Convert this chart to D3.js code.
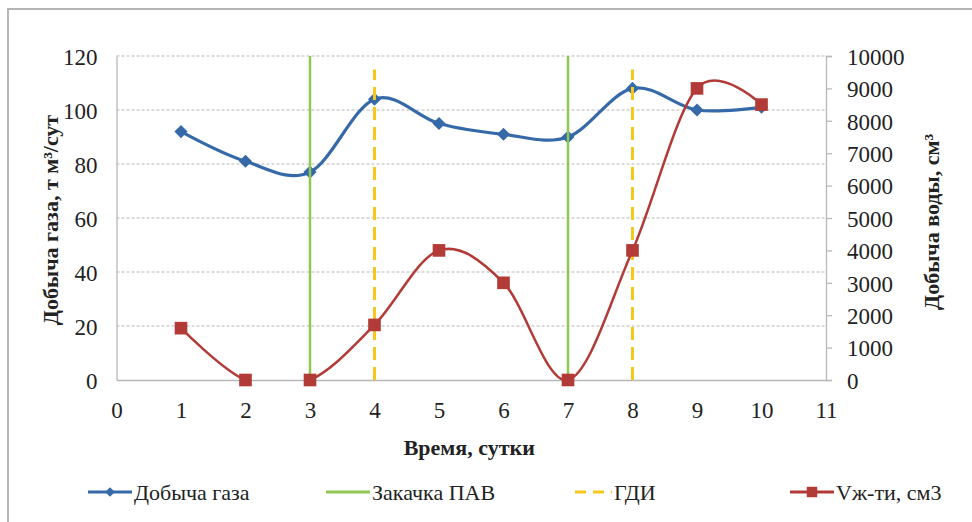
<!DOCTYPE html>
<html><head><meta charset="utf-8">
<script src="https://cdn.jsdelivr.net/npm/d3@7"></script>
<style>body{margin:0;background:#fff}svg{display:block}</style>
</head><body><svg id="c" width="972" height="522" style="font-family:'Liberation Serif','DejaVu Serif',serif"></svg>
<script>
const days = [1,2,3,4,5,6,7,8,9,10];
const gasProduction = [92,81,77,104,95,91,90,108,100,101];
const waterVolume = [1600,0,0,1700,4000,3000,0,4000,9000,8500];
const pavInjectionDays = [3,7];
const gdiDays = [4,8];
const xTicks = d3.range(0,12);
const leftTicks = [0,20,40,60,80,100,120];
const rightTicks = d3.range(0,10001,1000);
const seriesNames = ["Добыча газа","Закачка ПАВ","ГДИ","Vж-ти, см3"];

const FONT = "'Liberation Serif','DejaVu Serif',serif";
const svg = d3.select("#c");
const L = 116.5, R = 826, T = 56, B = 380;
const x = d3.scaleLinear().domain([0,11]).range([L,R]);
const yL = d3.scaleLinear().domain([0,120]).range([B,T]);
const yR = d3.scaleLinear().domain([0,10000]).range([B,T]);

const cBlue="#3569a8", cRed="#b23b37", cGreen="#8fc853", cYellow="#f7c71c", cGrid="#b8b8b8", cText="#222";

svg.append("defs").append("clipPath").attr("id","plotclip")
  .append("rect").attr("x",L).attr("y",T-10).attr("width",R-L).attr("height",B-T+10);

// outer frame
svg.append("rect").attr("x",8).attr("y",9).attr("width",980).attr("height",540)
  .attr("fill","none").attr("stroke","#b5b5b5").attr("stroke-width",2);

// gridlines
svg.append("g").selectAll("line").data(leftTicks.filter(d=>d>0)).join("line")
  .attr("x1",L).attr("x2",R).attr("y1",d=>yL(d)).attr("y2",d=>yL(d))
  .attr("stroke",cGrid).attr("stroke-width",1.2).attr("stroke-dasharray","3,2");

function styleText(sel, size){
  sel.attr("font-family",null).attr("font-size",null);
  sel.selectAll("text").style("font-family",FONT).style("font-size",size).style("fill",cText).attr("fill",cText);
}

// left axis
const gL = svg.append("g").attr("transform",`translate(${L},0)`)
  .call(d3.axisLeft(yL).tickValues(leftTicks).tickSize(0).tickPadding(19));
gL.select(".domain").attr("stroke",cGrid).attr("stroke-width",1.3);
styleText(gL,"23px"); gL.selectAll("text").attr("dy","0.36em");

// right axis
const gR = svg.append("g").attr("transform",`translate(${R},0)`)
  .call(d3.axisRight(yR).tickValues(rightTicks).tickSize(6).tickPadding(15).tickFormat(d3.format("d")));
gR.select(".domain").attr("stroke",cGrid).attr("stroke-width",1.3);
gR.selectAll(".tick line").attr("stroke",cGrid).attr("stroke-width",1.3);
styleText(gR,"23px"); gR.selectAll("text").attr("dy","0.36em");

// bottom axis
const gB = svg.append("g").attr("transform",`translate(0,${B})`)
  .call(d3.axisBottom(x).tickValues(xTicks).tickSize(0).tickPadding(22).tickFormat(d3.format("d")));
gB.select(".domain").attr("stroke",cGrid).attr("stroke-width",1.3);
styleText(gB,"23px");

// axis titles
svg.append("text").attr("x",(L+R)/2-2).attr("y",455).attr("text-anchor","middle")
  .style("font-family",FONT).style("font-size","22px").style("font-weight","bold").attr("fill",cText).text("Время, сутки");
svg.append("text").attr("transform",`translate(50,220) rotate(-90)`).attr("text-anchor","middle").attr("dy","0.35em")
  .style("font-family",FONT).style("font-size","22px").style("font-weight","bold").attr("fill",cText)
  .text("Добыча газа, т м³/сут");
svg.append("text").attr("transform",`translate(931,222) rotate(-90)`).attr("text-anchor","middle").attr("dy","0.35em")
  .style("font-family",FONT).style("font-size","22px").style("font-weight","bold").attr("fill",cText)
  .text("Добыча воды, см³");

const curve = d3.curveCardinal.tension(0);
// gas series
const gasData = days.map((d,i)=>({d,v:gasProduction[i]}));
svg.append("path").datum(gasData).attr("fill","none").attr("stroke",cBlue).attr("stroke-width",3.2)
  .attr("clip-path","url(#plotclip)")
  .attr("d",d3.line().x(p=>x(p.d)).y(p=>yL(p.v)).curve(curve));
svg.append("g").selectAll("path").data(gasData).join("path")
  .attr("transform",p=>`translate(${x(p.d)},${yL(p.v)})`)
  .attr("d",d3.symbol(d3.symbolDiamond2,110)).attr("fill",cBlue);

// vertical markers
svg.append("g").selectAll("line").data(pavInjectionDays).join("line")
  .attr("x1",d=>x(d)).attr("x2",d=>x(d)).attr("y1",yL(0)).attr("y2",yL(120))
  .attr("stroke",cGreen).attr("stroke-width",2.5);
svg.append("g").selectAll("line").data(gdiDays).join("line")
  .attr("x1",d=>x(d)).attr("x2",d=>x(d)).attr("y1",yL(0)).attr("y2",yL(115))
  .attr("stroke",cYellow).attr("stroke-width",3).attr("stroke-dasharray","13,7");

// water series
const wData = days.map((d,i)=>({d,v:waterVolume[i]}));
svg.append("path").datum(wData).attr("fill","none").attr("stroke",cRed).attr("stroke-width",2.5)
  .attr("clip-path","url(#plotclip)")
  .attr("d",d3.line().x(p=>x(p.d)).y(p=>yR(p.v)).curve(curve));
svg.append("g").selectAll("path").data(wData).join("path")
  .attr("transform",p=>`translate(${x(p.d)},${yR(p.v)})`)
  .attr("d",d3.symbol(d3.symbolSquare,160)).attr("fill",cRed);

// legend
const ly = 492;
const leg = svg.append("g");
const items = [
  {x:88, w:44, type:"diamond", color:cBlue},
  {x:326, w:44, type:"solid", color:cGreen},
  {x:574, w:38, type:"dash", color:cYellow},
  {x:790, w:44, type:"square", color:cRed}
];
items.forEach((it,i)=>{
  const g = leg.append("g");
  const ln = g.append("line").attr("x1",it.x).attr("x2",it.x+it.w).attr("y1",ly).attr("y2",ly)
    .attr("stroke",it.color).attr("stroke-width",3);
  if(it.type==="dash") ln.attr("stroke-dasharray","11,7").attr("x1",it.x+1);
  if(it.type==="diamond") g.append("path").attr("transform",`translate(${it.x+it.w/2},${ly})`)
    .attr("d",d3.symbol(d3.symbolDiamond2,60)).attr("fill",it.color);
  if(it.type==="square") g.append("path").attr("transform",`translate(${it.x+it.w/2},${ly})`)
    .attr("d",d3.symbol(d3.symbolSquare,110)).attr("fill",it.color);
  g.append("text").attr("x",it.x+it.w+2).attr("y",ly).attr("dy","0.35em")
    .style("font-family",FONT).style("font-size","22px").attr("fill",cText).text(seriesNames[i]);
});
</script></body></html>
